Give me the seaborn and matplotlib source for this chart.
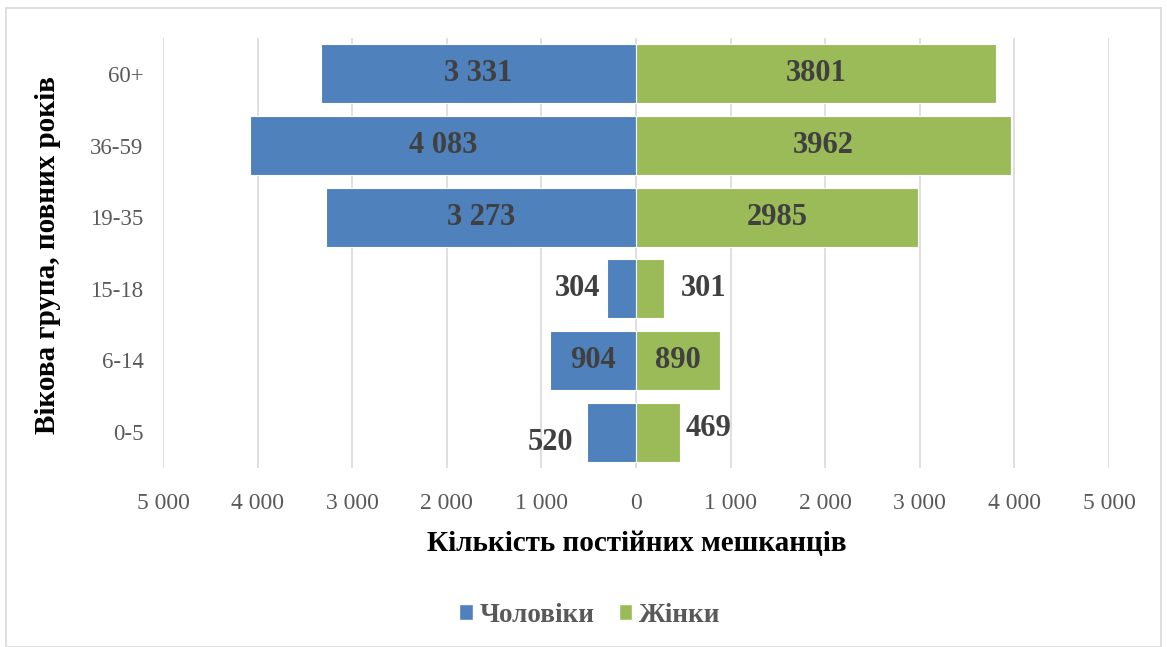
import matplotlib
matplotlib.use("Agg")
import matplotlib.pyplot as plt
import seaborn as sns
import pandas as pd
from matplotlib.patches import Patch, Rectangle
from matplotlib.ticker import FixedLocator, FuncFormatter

age_groups = ['60+', '36-59', '19-35', '15-18', '6-14', '0-5']
men = [3331, 4083, 3273, 304, 904, 520]
women = [3801, 3962, 2985, 301, 890, 469]
men_labels = ['3 331', '4 083', '3 273', '304', '904', '520']
women_labels = ['3801', '3962', '2985', '301', '890', '469']
series_names = ['Чоловіки', 'Жінки']
x_ticks = [-5000, -4000, -3000, -2000, -1000, 0, 1000, 2000, 3000, 4000, 5000]

blue = '#4F81BD'
green = '#9BBB59'
serif = ['Liberation Serif', 'DejaVu Serif']

sns.set_theme(style='white')
plt.rcParams['font.family'] = serif

df = pd.DataFrame({
    'group': age_groups * 2,
    'value': [-v for v in men] + women,
    'sex': [series_names[0]] * len(men) + [series_names[1]] * len(women),
})

fig = plt.figure(figsize=(11.67, 6.47), dpi=100)
ax = fig.add_axes([163 / 1167, 1 - 468 / 647, (1109 - 163) / 1167, (468 - 38) / 647])

sns.barplot(data=df, y='group', x='value', hue='sex', order=age_groups,
            hue_order=series_names, palette=[blue, green], dodge=False,
            orient='h', width=0.82, ax=ax, legend=False,
            edgecolor='white', linewidth=0.8, saturation=1)

ax.set_xlim(-5000, 5000)
ax.set_ylim(len(age_groups) - 0.5, -0.5)
ax.xaxis.set_major_locator(FixedLocator(x_ticks))
ax.xaxis.set_major_formatter(FuncFormatter(lambda v, p: f"{abs(int(v)):,}".replace(',', ' ')))
ax.grid(axis='x', color='#D9D9D9', linewidth=1.2)
ax.grid(axis='y', visible=False)
ax.set_axisbelow(True)
for s in ax.spines.values():
    s.set_visible(False)
ax.tick_params(axis='both', length=0, labelsize=17, labelcolor='#595959')
ax.tick_params(axis='y', labelsize=16.5, pad=14)
ax.tick_params(axis='x', pad=18)
ax.set_xlabel('')
ax.set_ylabel('')

lab_kw = dict(fontsize=22, fontweight='bold', color='#404040', va='center', family=serif)
for i, (m, w, ml, wl) in enumerate(zip(men, women, men_labels, women_labels)):
    if m > 600:
        ax.text(-m / 2, i, ml, ha='center', **lab_kw)
    else:
        off = 140 if i == 5 else 75
        ax.text(-m - off, i + (0.15 if i == 5 else 0), ml, ha='right', **lab_kw)
    if w > 600:
        ax.text(w / 2, i, wl, ha='center', **lab_kw)
    else:
        off = 55 if i == 5 else 170
        ax.text(w + off, i - (0.05 if i == 5 else 0), wl, ha='left', **lab_kw)

fig.text(637 / 1167, 1 - 543 / 647, 'Кількість постійних мешканців', ha='center', va='center',
         fontsize=21, fontweight='bold', color='black')
fig.text(48 / 1167, 1 - 255 / 647, 'Вікова група, повних років', ha='center', va='center',
         rotation=90, fontsize=21, fontweight='bold', color='black')

handles = [Patch(facecolor=blue), Patch(facecolor=green)]
leg = fig.legend(handles, series_names, loc='center', bbox_to_anchor=(590 / 1167, 1 - 615 / 647),
                 ncol=2, frameon=False, handlelength=0.5, handleheight=0.5, handletextpad=0.25,
                 columnspacing=0.9, prop={'family': serif, 'size': 19.5, 'weight': 'bold'})
for t in leg.get_texts():
    t.set_color('#595959')

fig.patches.append(Rectangle((6 / 1167, 0), (1161 - 6) / 1167, 1 - 8 / 647,
                             transform=fig.transFigure, fill=False, edgecolor='#D9D9D9',
                             linewidth=1.2))

fig.savefig('out.png', dpi=100)
